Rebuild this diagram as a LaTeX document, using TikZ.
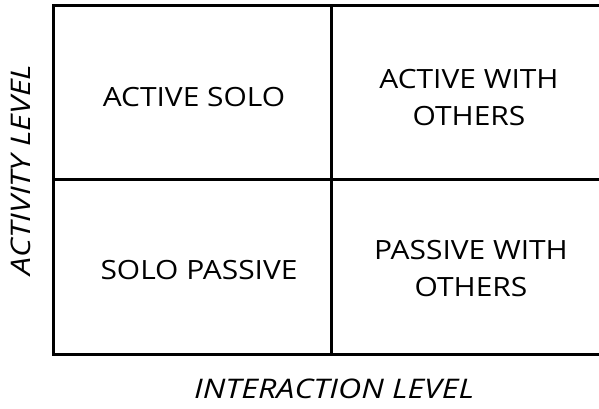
\documentclass[tikz,border=0pt]{standalone}
\usepackage{fontspec}
\setmainfont{Open Sans}
\newfontfamily\cellfont[FakeStretch=1.13]{Open Sans}
\newfontfamily\axisfont[FakeStretch=1.19]{Open Sans Italic}
\tikzset{
  grid/.style={line width=3pt, line cap=rect},
  celltext/.style={align=center, inner sep=0pt, font=\cellfont\fontsize{26.5}{37}\selectfont},
  axislabel/.style={inner sep=0pt, font=\axisfont\fontsize{27}{30}\selectfont}
}
\begin{document}
\begin{tikzpicture}[x=1pt,y=-1pt]
\useasboundingbox (0,0) rectangle (599,409);
\begin{scope}
\clip (0,0) rectangle (599,409);
\draw[grid] (53,6) -- (610,6);
\draw[grid] (53,354) -- (610,354);
\draw[grid] (53,6) -- (53,354);
\draw[grid] (331,6) -- (331,354);
\draw[grid] (53,179) -- (610,179);
\end{scope}
\node[celltext] (as) at (194,97) {ACTIVE SOLO};
\node[celltext] (aw) at (469,97.5) {ACTIVE WITH\\OTHERS};
\node[celltext] (sp) at (199,270) {SOLO PASSIVE};
\node[celltext] (pw) at (471,269) {PASSIVE WITH\\OTHERS};
\node[axislabel] (il) at (334,389) {INTERACTION LEVEL};
\node[axislabel, rotate=90] (al) at (21,170) {ACTIVITY LEVEL};
\end{tikzpicture}
\end{document}
